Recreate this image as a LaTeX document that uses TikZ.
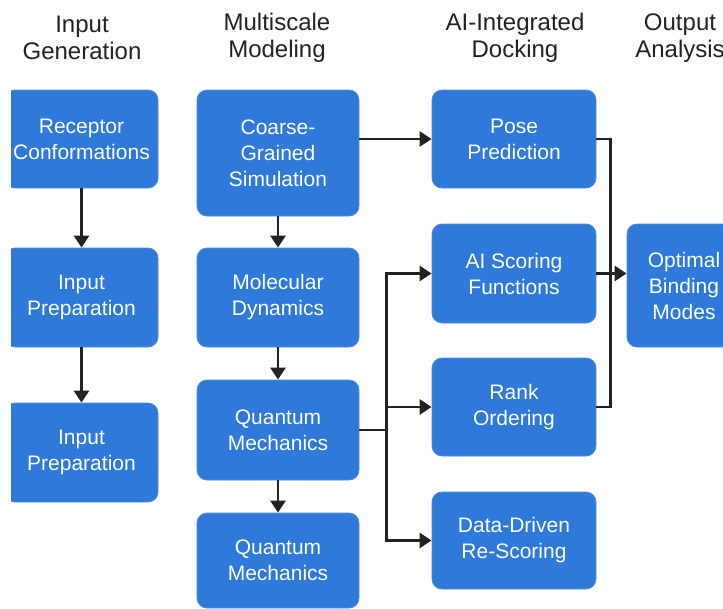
\documentclass[tikz,border=0pt]{standalone}
\usepackage{fontspec}
\setmainfont{Liberation Sans}
\usetikzlibrary{positioning,arrows.meta}
\definecolor{boxblue}{RGB}{46,121,217}
\definecolor{linedark}{RGB}{34,34,34}

\begin{document}
\begin{tikzpicture}[x=1pt, y=-1pt,
  stage/.style={rectangle, rounded corners=10pt, draw=boxblue!85!white,
    fill=boxblue, text=white, align=center, inner sep=0pt,
    font=\fontsize{21}{26}\selectfont, line width=0.8pt},
  colA/.style={stage, minimum width=153pt},
  colB/.style={stage, minimum width=162pt},
  colC/.style={stage, minimum width=164pt},
  header/.style={align=center, text=linedark, font=\fontsize{24}{27}\selectfont},
  flow/.style={linedark, line width=2.8pt, -{Triangle[width=15pt,length=12pt]}},
  link/.style={linedark, line width=2.8pt},
]
  \useasboundingbox (0,0) rectangle (723,608);
  \clip (11,0) rectangle (723,608);

  % Column headers
  \node[header] (hinput)  at (82, 38)  {Input\\Generation};
  \node[header] (hmulti)  at (277, 38) {Multiscale\\Modeling};
  \node[header] (hdock)   at (515, 38) {AI-Integrated\\Docking};
  \node[header] (houtput) at (680, 38) {Output\\Analysis};

  % Input generation
  \node[colA, minimum height=98pt] (rc)  at (81.5, 139)   {Receptor\\Conformations};
  \node[colA, minimum height=99pt] (ip1) at (81.5, 297.5) {Input\\Preparation};
  \node[colA, minimum height=99pt] (ip2) at (81.5, 452.5) {Input\\Preparation};

  % Multiscale modeling
  \node[colB, minimum height=126pt] (cg)  at (278, 153)   {Coarse-\\Grained\\Simulation};
  \node[colB, minimum height=99pt]  (md)  at (278, 297.5) {Molecular\\Dynamics};
  \node[colB, minimum height=100pt] (qm1) at (278, 430)   {Quantum\\Mechanics};
  \node[colB, minimum height=95pt]  (qm2) at (278, 560.5) {Quantum\\Mechanics};

  % AI-integrated docking
  \node[colC, minimum height=98pt] (pose) at (514, 139)   {Pose\\Prediction};
  \node[colC, minimum height=99pt] (ais)  at (514, 273.5) {AI Scoring\\Functions};
  \node[colC, minimum height=98pt] (rank) at (514, 407)   {Rank\\Ordering};
  \node[colC, minimum height=97pt] (dd)   at (514, 540.5) {Data-Driven\\Re-Scoring};

  % Output analysis
  \node[stage, minimum width=114pt, minimum height=123pt] (opt) at (684, 285.5)
    {Optimal\\Binding\\Modes};

  % Vertical flow inside columns
  \draw[flow] (rc) -- (ip1);
  \draw[flow] (ip1) -- (ip2);
  \draw[flow] (cg) -- (md);
  \draw[flow] (md) -- (qm1);
  \draw[flow] (qm1) -- (qm2);

  % Simulation into docking
  \draw[flow] (cg.east |- pose.west) -- (pose.west);
  \draw[flow] (qm1.east) -- ++(27,0) |- (ais.west);
  \draw[flow] (qm1.east) -- ++(27,0) |- (rank.west);
  \draw[flow] (qm1.east) -- ++(27,0) |- (dd.west);

  % Docking results gathered into output
  \draw[link] (pose.east) -- ++(14,0) |- (rank.east);
  \draw[flow] (ais.east) -- (ais.east -| opt.west);
\end{tikzpicture}
\end{document}
